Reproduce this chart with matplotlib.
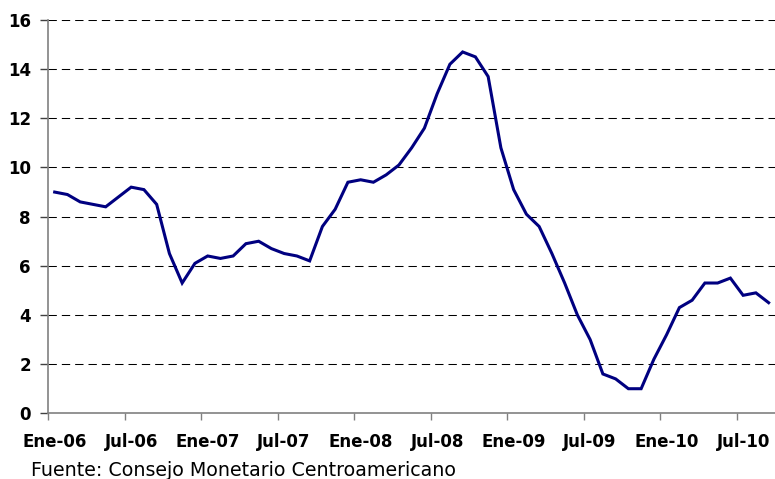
import matplotlib
matplotlib.use("Agg")
import matplotlib.pyplot as plt
import numpy as np

months = ["Ene", "Feb", "Mar", "Abr", "May", "Jun", "Jul", "Ago", "Sep", "Oct", "Nov", "Dic"]
categories = [f"{months[m]}-{y:02d}" for y in range(6, 11) for m in range(12)][:57]

values = [9.0, 8.9, 8.6, 8.5, 8.4, 8.8, 9.2, 9.1, 8.5, 6.5, 5.3, 6.1,
          6.4, 6.3, 6.4, 6.9, 7.0, 6.7, 6.5, 6.4, 6.2, 7.6, 8.3, 9.4,
          9.5, 9.4, 9.7, 10.1, 10.8, 11.6, 13.0, 14.2, 14.7, 14.5, 13.7, 10.8,
          9.1, 8.1, 7.6, 6.5, 5.3, 4.0, 3.0, 1.6, 1.4, 1.0, 1.0, 2.2,
          3.2, 4.3, 4.6, 5.3, 5.3, 5.5, 4.8, 4.9, 4.5]

yticks = [0, 2, 4, 6, 8, 10, 12, 14, 16]
footer = "Fuente: Consejo Monetario Centroamericano"

fig = plt.figure(figsize=(7.75, 4.79), dpi=100)
ax = fig.add_axes([48.3 / 775, (479 - 413.3) / 479, 1 - 48.3 / 775, (413.3 - 20) / 479])

x = np.arange(len(values))
ax.plot(x, values, color="#000080", lw=2.2, solid_joinstyle="miter", zorder=3, clip_on=False)

ax.set_xlim(-0.5, len(values) - 0.5)
ax.set_ylim(0, 16)

for v in yticks[1:]:
    ax.axhline(v, color="black", lw=0.75, linestyle=(0, (8, 4.8)), zorder=1)

ax.set_yticks(yticks)
ax.set_yticklabels([str(v) for v in yticks], fontsize=12, fontweight="bold", family="DejaVu Sans")

# Category axis: ticks between categories, labels on categories
ax.set_xticks(np.arange(-0.5, len(values), 6))
ax.set_xticklabels([])
ax.set_xticks(np.arange(0, len(values), 6), minor=True)
ax.set_xticklabels([categories[i] for i in range(0, len(values), 6)], minor=True,
                   fontsize=12, fontweight="bold", family="DejaVu Sans")
ax.tick_params(axis="x", which="minor", length=0, pad=14)
ax.tick_params(axis="x", which="major", length=5, width=1, color="#808080", direction="out")
ax.tick_params(axis="y", length=5.5, width=1, color="#404040", direction="out", pad=7)

for s in ["top", "right"]:
    ax.spines[s].set_visible(False)
for s in ["left", "bottom"]:
    ax.spines[s].set_color("#808080")
    ax.spines[s].set_linewidth(1.2)

fig.text(30.7 / 775, 3 / 479, footer, fontsize=13.7, family="DejaVu Sans", va="baseline", ha="left")

fig.savefig("out.png", dpi=100)
